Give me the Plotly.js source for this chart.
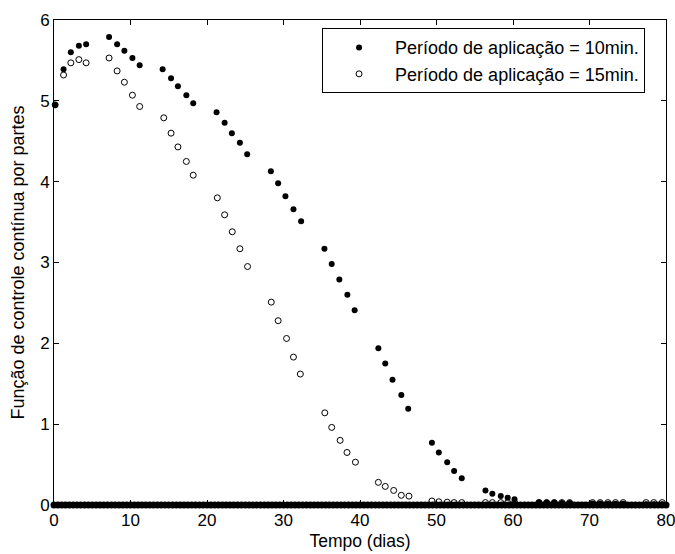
<!DOCTYPE html>
<html>
<head>
<meta charset="utf-8">
<script src="https://cdn.plot.ly/plotly-3.0.1.min.js"></script>
<style>html,body{margin:0;padding:0;background:#fff;}#chart{width:675px;height:554px;}</style>
</head>
<body>
<div id="chart"></div>
<script>
// Período de aplicação = 10min. (filled dots)
const t10 = [0.15,1.25,2.2,3.25,4.2, 7.2,8.25,9.2,10.25,11.2, 14.2,15.3,16.2,17.3,18.2,
  21.25,22.3,23.25,24.3,25.25, 28.35,29.3,30.25,31.3,32.3, 35.35,36.3,37.3,38.35,39.3,
  42.4,43.3,44.25,45.4,46.3, 49.4,50.3,51.4,52.3,53.3, 56.4,57.3,58.4,59.3,60.2,
  63.4,64.4,65.4,66.4,67.4, 70.4,71.4,72.4,73.4,74.4, 77.4,78.4,79.5];
const u10 = [4.95,5.39,5.60,5.68,5.70, 5.79,5.70,5.62,5.53,5.44, 5.39,5.28,5.18,5.07,4.97,
  4.86,4.73,4.60,4.48,4.34, 4.13,3.98,3.82,3.66,3.51, 3.17,2.98,2.79,2.60,2.41,
  1.94,1.75,1.55,1.36,1.19, 0.77,0.65,0.53,0.42,0.33, 0.18,0.14,0.11,0.09,0.07,
  0.035,0.03,0.03,0.025,0.025, 0.02,0.02,0.015,0.015,0.015, 0.01,0.01,0.01];

// Período de aplicação = 15min. (open circles)
const t15 = [0.15,1.25,2.2,3.25,4.2, 7.2,8.25,9.2,10.25,11.2, 14.35,15.3,16.2,17.3,18.2,
  21.35,22.3,23.3,24.3,25.3, 28.4,29.3,30.4,31.3,32.2, 35.4,36.3,37.4,38.3,39.4,
  42.4,43.3,44.4,45.4,46.4, 49.4,50.3,51.4,52.3,53.3, 56.4,57.3,58.4,59.3,60.2,
  63.4,64.4,65.4,66.4,67.4, 70.4,71.4,72.4,73.4,74.4, 77.4,78.4,79.5];
const u15 = [4.95,5.32,5.47,5.51,5.47, 5.53,5.37,5.23,5.07,4.93, 4.79,4.60,4.43,4.25,4.08,
  3.80,3.59,3.38,3.17,2.95, 2.51,2.28,2.06,1.83,1.62, 1.14,0.96,0.80,0.65,0.53,
  0.28,0.23,0.18,0.12,0.11, 0.05,0.04,0.035,0.03,0.03, 0.03,0.03,0.03,0.03,0.03,
  0.03,0.03,0.03,0.03,0.03, 0.03,0.03,0.03,0.03,0.03, 0.03,0.03,0.03];

// instants where the control is switched off (value 0)
const tOff = [0,0.5,1,1.5,2,2.5,3,3.5,4,4.5,5,5.5,6,6.5,7,7.5,8,8.5,9,9.5,
  10,10.5,11,11.5,12,12.5,13,13.5,14,14.5,15,15.5,16,16.5,17,17.5,18,18.5,19,19.5,
  20,20.5,21,21.5,22,22.5,23,23.5,24,24.5,25,25.5,26,26.5,27,27.5,28,28.5,29,29.5,
  30,30.5,31,31.5,32,32.5,33,33.5,34,34.5,35,35.5,36,36.5,37,37.5,38,38.5,39,39.5,
  40,40.5,41,41.5,42,42.5,43,43.5,44,44.5,45,45.5,46,46.5,47,47.5,48,48.5,49,49.5,
  50,50.5,51,51.5,52,52.5,53,53.5,54,54.5,55,55.5,56,56.5,57,57.5,58,58.5,59,59.5,
  60,60.5,61,61.5,62,62.5,63,63.5,64,64.5,65,65.5,66,66.5,67,67.5,68,68.5,69,69.5,
  70,70.5,71,71.5,72,72.5,73,73.5,74,74.5,75,75.5,76,76.5,77,77.5,78,78.5,79,79.5,80];
const uOff = tOff.map(() => 0);

const xTicks = [0,10,20,30,40,50,60,70,80];
const yTicks = [0,1,2,3,4,5,6];

const FONT = 'Liberation Sans, Arial, Helvetica, sans-serif';

const traces = [
  {x: tOff, y: uOff, type: 'scatter', mode: 'markers', showlegend: false, hoverinfo: 'skip',
   marker: {symbol: 'circle', size: 7, color: '#000'}, cliponaxis: false},
  {x: t10, y: u10, type: 'scatter', mode: 'markers', name: 'Período de aplicação = 10min.',
   marker: {symbol: 'circle', size: 6, color: '#000'}, cliponaxis: false},
  {x: t15, y: u15, type: 'scatter', mode: 'markers', name: 'Período de aplicação = 15min.',
   marker: {symbol: 'circle-open', size: 6, color: '#000', line: {width: 1, color: '#000'}}, cliponaxis: false}
];

const layout = {
  width: 675, height: 554,
  margin: {l: 54, r: 9, t: 20, b: 49, pad: 0},
  paper_bgcolor: '#fff', plot_bgcolor: '#fff',
  font: {family: FONT, size: 17, color: '#000'},
  showlegend: true,
  legend: {x: 0.438, y: 0.983, xanchor: 'left', yanchor: 'top',
    bgcolor: '#fff', bordercolor: '#000', borderwidth: 1,
    font: {family: FONT, size: 18, color: '#000'}, itemwidth: 62, tracegroupgap: 0},
  xaxis: {range: [0, 80], tickvals: xTicks, ticktext: xTicks.map(String),
    ticks: 'inside', ticklen: 5, tickcolor: '#000', tickwidth: 1,
    showline: true, linecolor: '#000', linewidth: 1, mirror: 'ticks',
    showgrid: false, zeroline: false, ticklabeloverflow: 'allow',
    tickfont: {family: FONT, size: 17, color: '#000'},
    title: {text: 'Tempo (dias)', font: {family: FONT, size: 17.5, color: '#000'}, standoff: 5}},
  yaxis: {range: [0, 6], tickvals: yTicks, ticktext: yTicks.map(String),
    ticks: 'inside', ticklen: 5, tickcolor: '#000', tickwidth: 1,
    showline: true, linecolor: '#000', linewidth: 1, mirror: 'ticks',
    showgrid: false, zeroline: false, ticklabeloverflow: 'allow',
    tickfont: {family: FONT, size: 17, color: '#000'},
    title: {text: 'Função de controle contínua por partes', font: {family: FONT, size: 18, color: '#000'}, standoff: 10}}
};

Plotly.newPlot('chart', traces, layout, {displayModeBar: false, staticPlot: true});
</script>
</body>
</html>
